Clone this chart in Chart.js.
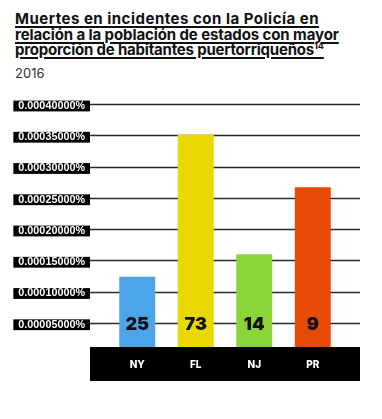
<!DOCTYPE html>
<html><head><meta charset="utf-8">
<script src="https://cdn.jsdelivr.net/npm/chart.js@4"></script>
<style>
html,body{margin:0;padding:0;background:#fff;}
#wrap{position:relative;width:382px;height:419px;overflow:hidden;}
#title{position:absolute;left:15px;top:11px;margin:0;font:bold 15px/15.5px Inter,Lato,"DejaVu Sans",sans-serif;color:#111;text-decoration:underline;text-underline-offset:2px;text-decoration-thickness:1.5px;white-space:nowrap;letter-spacing:-0.1px;}
#title .l1{letter-spacing:0.5px;}
#title .l3{letter-spacing:-0.2px;}
#title sup{font-size:9px;line-height:0;vertical-align:6px;text-decoration:none;}
#sub{position:absolute;left:15px;top:65px;margin:0;font:13px Inter,Lato,"DejaVu Sans",sans-serif;color:#333;}
canvas{position:absolute;left:0;top:0;}
</style></head>
<body><div id="wrap">
<div id="title"><span class="l1">Muertes en incidentes con la Policía en</span><br>relación a la población de estados con mayor<br><span class="l3">proporción de habitantes puertorriqueños</span><sup>14</sup></div>
<div id="sub">2016</div>
<canvas id="c" width="382" height="419"></canvas>
</div>
<script>
const categories = ['NY', 'FL', 'NJ', 'PR'];
const rates = [0.000127, 0.000354, 0.000163, 0.000270];
const deaths = [25, 73, 14, 9];
const barColors = ['#4ca4e9', '#e9d900', '#8bd43a', '#e74a06'];
const yTickValues = [0.00005, 0.0001, 0.00015, 0.0002, 0.00025, 0.0003, 0.00035, 0.0004];

const decor = {
  id: 'decor',
  beforeDatasetsDraw(chart) {
    const {ctx, chartArea, scales} = chart;
    ctx.save();
    ctx.strokeStyle = '#2a2a2a';
    ctx.lineWidth = 1.3;
    scales.y.ticks.forEach(t => {
      const y = Math.round(scales.y.getPixelForValue(t.value)) - 1.5;
      ctx.beginPath();
      ctx.moveTo(chartArea.left - 18, y);
      ctx.lineTo(chartArea.right + 18, y);
      ctx.stroke();
    });
    ctx.restore();
  },
  afterDatasetsDraw(chart) {
    const {ctx, chartArea, scales} = chart;
    ctx.save();
    ctx.fillStyle = '#000';
    ctx.fillRect(chartArea.left - 18, chartArea.bottom - 9, chartArea.right - chartArea.left + 36, 34);
    const meta = chart.getDatasetMeta(0);
    ctx.textAlign = 'center';
    ctx.textBaseline = 'middle';
    ctx.font = '900 18px Inter, "DejaVu Sans", sans-serif';
    ctx.fillStyle = '#111';
    meta.data.forEach((bar, i) => {
      ctx.fillText(String(deaths[i]), bar.x, chartArea.bottom - 31);
    });
    ctx.font = '800 10px Inter, "DejaVu Sans", sans-serif';
    ctx.fillStyle = '#fff';
    scales.x.ticks.forEach((t, i) => {
      ctx.fillText(scales.x.getLabelForValue(t.value), scales.x.getPixelForTick(i), chartArea.bottom + 9);
    });
    ctx.restore();
  }
};

new Chart(document.getElementById('c'), {
  type: 'bar',
  data: {
    labels: categories,
    datasets: [{
      data: rates,
      backgroundColor: barColors,
      borderWidth: 0,
      categoryPercentage: 1,
      barPercentage: 0.615
    }]
  },
  options: {
    responsive: false,
    animation: false,
    devicePixelRatio: 1,
    layout: {padding: {top: 106, right: 40, bottom: 33, left: 0}},
    plugins: {legend: {display: false}, tooltip: {enabled: false}, title: {display: false}},
    scales: {
      x: {
        grid: {display: false, drawTicks: false},
        border: {display: false},
        ticks: {display: false},
        afterFit(s) { s.height = 30; }
      },
      y: {
        min: 0, max: 0.0004,
        grid: {display: false, drawTicks: false},
        border: {display: false},
        afterBuildTicks(s) { s.ticks = yTickValues.map(v => ({value: v})); },
        afterFit(s) { s.width = 108; },
        ticks: {
          color: '#fff',
          padding: 23,
          font: {family: '"Liberation Sans", Arial, sans-serif', size: 10.8, weight: 'bold', lineHeight: 1},
          showLabelBackdrop: true,
          backdropColor: '#000',
          backdropPadding: {top: 0, bottom: 0, left: 5, right: 5},
          callback: v => v.toFixed(8) + '%'
        }
      }
    }
  },
  plugins: [decor]
});
</script>
</body></html>
